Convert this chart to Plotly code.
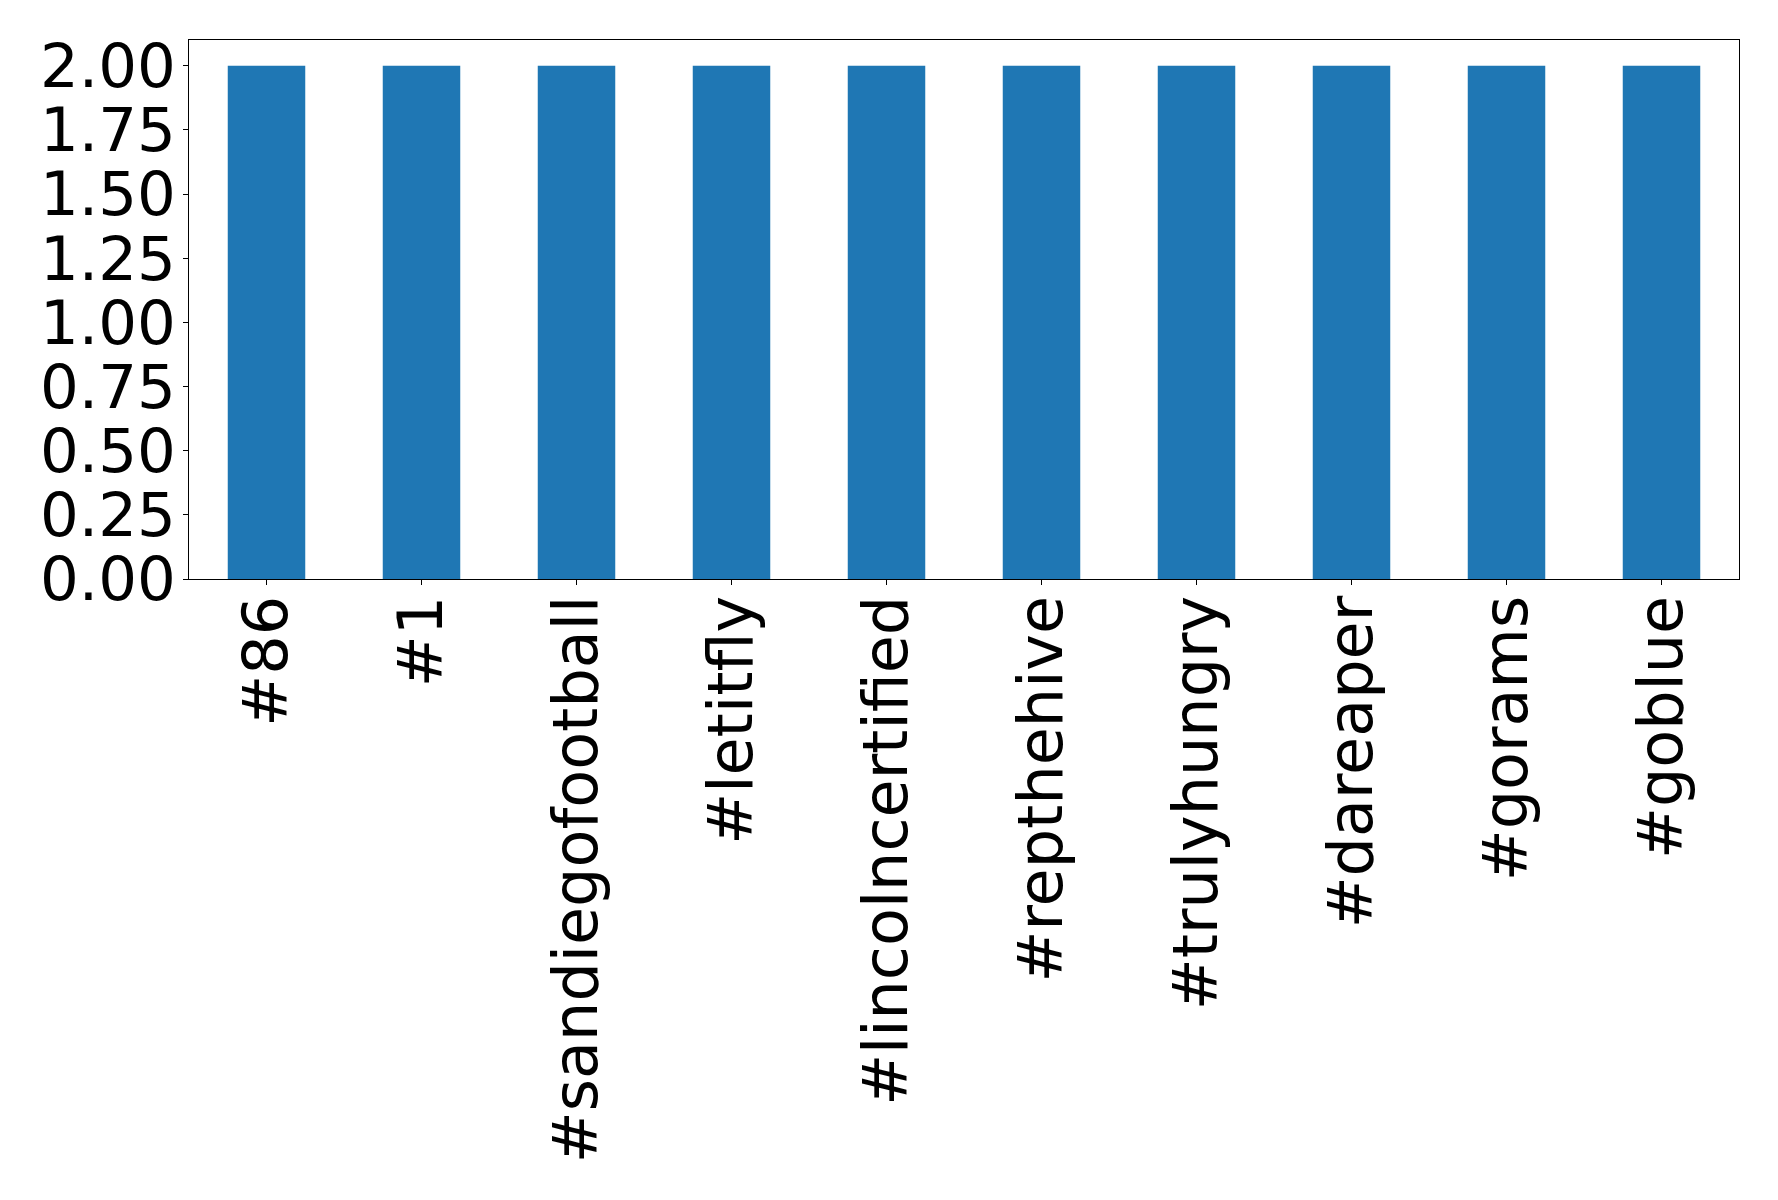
import plotly.graph_objects as go

hashtags = ["#86", "#1", "#sandiegofootball", "#letitfly", "#lincolncertified",
            "#repthehive", "#trulyhungry", "#dareaper", "#gorams", "#goblue"]
counts = [2, 2, 2, 2, 2, 2, 2, 2, 2, 2]
y_ticks = [0, 0.25, 0.5, 0.75, 1.0, 1.25, 1.5, 1.75, 2.0]
y_tick_labels = ["0.00", "0.25", "0.50", "0.75", "1.00", "1.25", "1.50", "1.75", "2.00"]

fig = go.Figure(go.Bar(x=hashtags, y=counts, width=0.5, marker=dict(color="#1f77b4", line=dict(width=0))))

xfont = dict(family="DejaVu Sans", size=62, color="black")
yfont = dict(family="DejaVu Sans", size=61, color="black")
fig.update_layout(
    width=1778, height=1200,
    margin=dict(l=181, r=47, t=32, b=629, pad=0),
    plot_bgcolor="white", paper_bgcolor="white",
    showlegend=False,
    font=xfont,
)
fig.update_xaxes(
    type="category", range=[-0.5, 9.5],
    showline=True, linecolor="black", linewidth=1, mirror=True,
    ticks="outside", ticklen=5, tickcolor="black", tickwidth=1,
    tickangle=-90, tickfont=xfont, showgrid=False, zeroline=False,
    ticklabelstandoff=-14,
)
fig.update_yaxes(
    range=[0, 2.1],
    tickvals=y_ticks, ticktext=y_tick_labels,
    showline=True, linecolor="black", linewidth=1, mirror=True,
    ticks="outside", ticklen=5, tickcolor="black", tickwidth=1,
    tickfont=yfont, showgrid=False, zeroline=False,
    ticklabelstandoff=-5,
)
fig.write_html("out.html")
